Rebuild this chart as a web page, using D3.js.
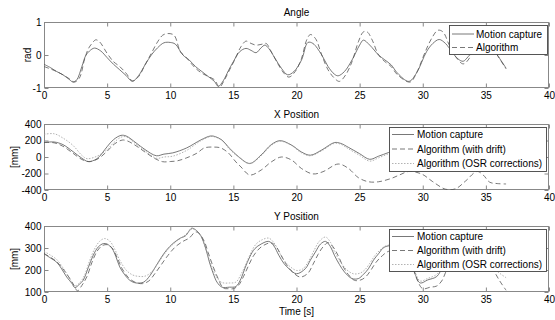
<!DOCTYPE html>
<html><head><meta charset="utf-8">
<script src="https://cdn.jsdelivr.net/npm/d3@7"></script>
<style>html,body{margin:0;padding:0;background:#fff}svg{display:block}text{font-family:"Liberation Sans",Arial,sans-serif;fill:#000}</style>
</head><body><svg id="c" width="555" height="320"></svg>
<script>
// ---------- DATA ----------
const xTicks = [0,5,10,15,20,25,30,35,40];
const angleTicks = [-1,0,1];
const xPosTicks = [-400,-200,0,200,400];
const yPosTicks = [100,200,300,400];

const angleMocap = [[0,-0.28],[0.5,-0.38],[1,-0.5],[1.5,-0.6],[2,-0.74],[2.3,-0.82],[2.6,-0.75],[3,-0.35],[3.3,-0.02],[3.6,0.12],[4,0.21],[4.5,0.12],[5,-0.08],[5.5,-0.28],[6,-0.45],[6.5,-0.62],[7,-0.8],[7.5,-0.62],[8,-0.3],[8.5,0.0],[9,0.22],[9.5,0.37],[10,0.38],[10.4,0.33],[11,0.0],[11.5,-0.15],[12,-0.35],[12.5,-0.5],[13,-0.65],[13.5,-0.8],[13.8,-0.95],[14.2,-0.78],[14.6,-0.48],[15,-0.2],[15.5,0.1],[16,0.2],[16.4,0.14],[16.8,0.07],[17.2,0.22],[17.5,0.3],[17.8,0.2],[18.3,-0.1],[18.8,-0.4],[19.3,-0.6],[19.8,-0.5],[20.4,-0.15],[20.9,0.38],[21.3,0.35],[22,0.0],[22.5,-0.35],[23,-0.58],[23.3,-0.63],[23.8,-0.5],[24.4,-0.15],[25,0.3],[25.3,0.45],[25.8,0.3],[26.5,0.0],[27,-0.15],[27.5,-0.3],[28,-0.55],[28.9,-0.8],[29.5,-0.55],[30.3,0.1],[30.8,0.35],[31.3,0.47],[31.8,0.35],[32.3,0.1],[32.8,-0.12],[33.2,-0.19],[33.6,-0.05],[34.2,0.2],[34.8,0.3],[35.4,0.25],[35.9,0.0],[36.6,-0.4]];
const angleAlgo = [[0,-0.35],[0.5,-0.42],[1,-0.5],[1.5,-0.6],[2,-0.72],[2.4,-0.82],[2.8,-0.7],[3.2,-0.15],[3.5,0.18],[3.8,0.35],[4.1,0.46],[4.4,0.4],[5,0.05],[5.5,-0.2],[6,-0.35],[6.5,-0.55],[7,-0.78],[7.5,-0.65],[8,-0.3],[8.5,0.05],[9,0.4],[9.4,0.6],[9.8,0.65],[10.3,0.6],[10.8,0.1],[11.2,-0.05],[12,-0.4],[12.5,-0.55],[13,-0.65],[13.5,-0.75],[13.9,-0.97],[14.3,-0.75],[14.7,-0.45],[15.1,-0.15],[15.6,0.25],[16,0.42],[16.4,0.35],[16.8,0.3],[17.3,0.33],[17.6,0.35],[18,0.1],[18.5,-0.25],[19,-0.55],[19.4,-0.67],[19.9,-0.5],[20.4,-0.1],[20.8,0.45],[21.1,0.62],[21.5,0.5],[22,0.0],[22.5,-0.45],[23,-0.7],[23.4,-0.8],[23.9,-0.6],[24.4,-0.2],[24.9,0.4],[25.3,0.7],[25.6,0.7],[26,0.45],[26.5,0.0],[27,-0.2],[27.5,-0.35],[28,-0.6],[29,-0.82],[29.5,-0.55],[30.2,0.1],[30.7,0.5],[31.2,0.75],[31.6,0.7],[32.1,0.3],[32.6,-0.05],[33.2,-0.27],[33.6,-0.15],[34.2,0.3],[34.8,0.45],[35.4,0.3],[35.9,0.0],[36.6,-0.42]];

const xMocap = [[0,175],[0.8,182],[1.5,150],[2.3,65],[3,-15],[3.5,-55],[4.2,-20],[5,125],[5.5,210],[6.1,262],[6.5,255],[7.3,170],[8,90],[8.9,15],[9.5,35],[10.2,50],[11.3,110],[12.4,205],[13.2,255],[13.6,245],[14.1,205],[14.7,105],[15.4,5],[16.3,-78],[17.2,25],[18,150],[18.7,198],[19.6,145],[20.4,60],[21.1,22],[22,85],[23,175],[23.5,165],[24.1,118],[25,40],[25.8,-28],[26.5,10],[27.3,55],[28,100],[29,120],[30,60],[31,20],[32,60],[33,100],[34,60],[35,20],[36,40],[36.6,50]];
const xOsr = [[0,275],[0.8,282],[1.5,230],[2.3,140],[3,20],[3.4,-20],[4.2,10],[5,90],[5.5,170],[6.1,240],[6.5,245],[7.3,155],[8,75],[8.9,-15],[9.5,0],[10.2,10],[11.3,80],[12.4,195],[13.2,248],[13.6,240],[14.1,200],[14.7,95],[15.4,0],[16.3,-80],[17.2,15],[18,140],[18.7,192],[19.6,140],[20.4,50],[21.1,15],[22,75],[23,165],[23.5,155],[24.1,100],[25,20],[25.8,-50],[26.5,-10],[27.3,40],[28,80],[29,100],[30,40],[31,0],[32,40],[33,80],[34,40],[35,0],[36,20],[36.6,30]];
const xDrift = [[0,175],[0.8,172],[1.5,130],[2.3,45],[3,-30],[3.6,-57],[4.3,-20],[5,70],[5.6,160],[6.2,205],[6.6,195],[7.3,135],[8,60],[8.8,-20],[9.4,-57],[10,-55],[10.6,-45],[11.3,-10],[12.1,45],[12.7,110],[13.5,120],[14,110],[14.6,50],[15.2,-60],[15.6,-120],[16.3,-218],[17.2,-158],[18,-60],[18.8,0],[19.6,-36],[20.4,-140],[21.3,-205],[22.1,-178],[23.3,-85],[24.1,-137],[24.9,-250],[25.7,-300],[26.5,-300],[27.5,-260],[28.2,-215],[28.9,-175],[29.9,-205],[30.8,-300],[31.8,-390],[32.6,-385],[33.4,-290],[34.3,-175],[34.8,-220],[35.3,-305],[35.9,-322],[36.6,-327]];

const yMocap = [[0,274],[0.5,255],[1,236],[1.4,205],[1.8,168],[2.2,140],[2.45,120],[2.8,135],[3.1,153],[3.5,210],[3.9,267],[4.3,305],[4.7,320],[5,318],[5.4,297],[5.7,260],[6,214],[6.4,178],[6.8,153],[7.3,141],[7.9,145],[8.4,175],[8.9,221],[9.3,258],[9.7,290],[10.2,320],[10.8,345],[11.2,355],[11.7,390],[12,383],[12.4,358],[12.8,300],[13.1,236],[13.4,185],[13.7,145],[14.1,122],[14.7,122],[15.2,125],[15.6,160],[15.9,206],[16.3,260],[16.7,297],[17.2,318],[17.8,330],[18.2,310],[18.6,267],[19,230],[19.4,206],[20,183],[20.7,206],[21.1,245],[21.5,282],[21.9,318],[22.3,330],[22.7,305],[23,267],[23.4,225],[23.8,191],[24.4,161],[24.9,161],[25.3,180],[25.7,206],[26.1,245],[26.5,274],[27,305],[28.6,305],[29,250],[29.4,180],[29.8,141],[30.4,155],[31.1,170],[31.6,215],[32.2,265],[33,300],[34,300],[35,280],[35.8,250],[36.6,228]];
const yDrift = [[0,275],[0.5,258],[1,238],[1.5,205],[2,165],[2.4,128],[2.65,105],[3,130],[3.4,170],[3.8,235],[4.2,285],[4.6,310],[5,315],[5.4,300],[5.8,255],[6.2,205],[6.7,165],[7.2,145],[7.8,138],[8.3,150],[8.8,185],[9.3,225],[9.8,265],[10.4,305],[11,330],[11.5,345],[12,373],[12.3,365],[12.7,330],[13,280],[13.4,215],[13.8,160],[14.2,118],[14.6,115],[15,115],[15.4,130],[15.8,170],[16.2,220],[16.6,265],[17.1,300],[17.6,318],[18,324],[18.4,305],[18.8,265],[19.2,225],[19.7,190],[20.3,168],[20.9,185],[21.3,225],[21.7,270],[22.1,305],[22.5,324],[22.9,305],[23.3,265],[23.7,215],[24.1,180],[24.6,153],[25.1,155],[25.5,170],[25.9,200],[26.3,235],[26.8,265],[27.3,285],[28.8,285],[29.2,220],[29.6,150],[30,115],[30.6,122],[31.1,127],[31.5,150],[31.9,200],[32.5,255],[33.2,295],[34,300],[35,260],[35.6,200],[36.1,150],[36.6,108]];
const yOsr = [[0,285],[0.5,268],[1,248],[1.5,210],[2,165],[2.4,128],[2.8,140],[3.2,175],[3.6,240],[4,295],[4.4,330],[4.8,343],[5.2,332],[5.6,295],[6,245],[6.5,200],[7,178],[7.5,171],[8,172],[8.5,190],[9,228],[9.5,270],[10,305],[10.6,335],[11.2,360],[11.7,385],[12.1,378],[12.5,345],[12.9,280],[13.3,215],[13.7,165],[14.1,143],[14.7,141],[15.2,145],[15.6,180],[16,228],[16.4,280],[16.8,318],[17.3,338],[17.8,345],[18.2,325],[18.6,285],[19,245],[19.5,215],[20,198],[20.5,205],[21,245],[21.4,290],[21.8,330],[22.3,350],[22.7,325],[23,285],[23.5,235],[24,200],[24.5,183],[25,185],[25.4,200],[25.8,230],[26.2,265],[26.6,290],[27.1,310],[28.6,312],[29,260],[29.4,190],[29.8,150],[30.4,162],[31.1,180],[31.6,225],[32.2,275],[33,310],[34,310],[35,270],[35.6,210],[36.1,185],[36.6,165]];

const legAngle = ["Motion capture","Algorithm"];
const legPos = ["Motion capture","Algorithm (with drift)","Algorithm (OSR corrections)"];

// ---------- STYLES ----------
const styles = {
  solid: {stroke:"#555", dash:null, w:0.8},
  dashed:{stroke:"#555", dash:"5,3", w:0.8},
  dotted:{stroke:"#a0a0a0", dash:"1.5,1.5", w:0.8}
};

const svg = d3.select("#c");
const L = 44, R = 549;
const x = d3.scaleLinear().domain([0,40]).range([L,R]);

const panels = [
  {top:22, bottom:88, domain:[-1,1], ticks:angleTicks, title:"Angle", ylab:"rad", ylabX:27,
   series:[[angleMocap,"solid"],[angleAlgo,"dashed"]],
   legend:{labels:legAngle, styles:["solid","dashed"], x:449, y:25, w:98, h:29, rows:[34,47.5], lx0:452, lx1:474, tx:476}},
  {top:124, bottom:190, domain:[-400,400], ticks:xPosTicks, title:"X Position", ylab:"[mm]", ylabX:14,
   series:[[xMocap,"solid"],[xOsr,"dotted"],[xDrift,"dashed"]],
   legend:{labels:legPos, styles:["solid","dashed","dotted"], x:389, y:127, w:157, h:44, rows:[134.5,149,163.5], lx0:392, lx1:414, tx:417}},
  {top:226, bottom:292, domain:[100,400], ticks:yPosTicks, title:"Y Position", ylab:"[mm]", ylabX:14,
   series:[[yMocap,"solid"],[yOsr,"dotted"],[yDrift,"dashed"]],
   legend:{labels:legPos, styles:["solid","dashed","dotted"], x:389, y:229, w:157, h:42, rows:[236.5,250.5,264.5], lx0:392, lx1:414, tx:417}}
];

panels.forEach((p,i)=>{
  const y = d3.scaleLinear().domain(p.domain).range([p.bottom,p.top]);
  const g = svg.append("g");
  const cid = "clip"+i;
  svg.append("clipPath").attr("id",cid).append("rect")
    .attr("x",L).attr("y",p.top).attr("width",R-L).attr("height",p.bottom-p.top);

  g.append("rect").attr("x",L+0.5).attr("y",p.top+0.5).attr("width",R-L-1).attr("height",p.bottom-p.top-1)
    .attr("fill","#fff").attr("stroke","#888").attr("stroke-width",1);

  const tk = 4;
  const axB = d3.axisBottom(x).tickValues(xTicks).tickSize(-tk).tickFormat(d=>d).tickPadding(4);
  const axT = d3.axisTop(x).tickValues(xTicks).tickSize(-tk).tickFormat("");
  const axLft = d3.axisLeft(y).tickValues(p.ticks).tickSize(-tk).tickFormat(d=>d).tickPadding(3);
  const axRt = d3.axisRight(y).tickValues(p.ticks).tickSize(-tk).tickFormat("");
  const styleAx = sel => { sel.select(".domain").remove(); sel.selectAll("line").attr("stroke","#888");
    sel.selectAll("text").attr("font-size",10).attr("fill","#000").style("font-family","Liberation Sans, Arial, sans-serif"); };
  g.append("g").attr("transform",`translate(0,${p.bottom-0.5})`).call(axB).call(styleAx);
  g.append("g").attr("transform",`translate(0,${p.top+0.5})`).call(axT).call(styleAx);
  g.append("g").attr("transform",`translate(${L+0.5},0)`).call(axLft).call(styleAx);
  g.append("g").attr("transform",`translate(${R-0.5},0)`).call(axRt).call(styleAx);

  const line = d3.line().x(d=>x(d[0])).y(d=>y(d[1])).curve(d3.curveCatmullRom.alpha(0.5));
  const lg = g.append("g").attr("clip-path",`url(#${cid})`);
  p.series.forEach(([data,st])=>{
    const s = styles[st];
    lg.append("path").attr("d",line(data)).attr("fill","none").attr("stroke",s.stroke)
      .attr("stroke-width",s.w).attr("stroke-dasharray",s.dash);
  });

  g.append("text").attr("x",(L+R)/2).attr("y",p.top-6).attr("text-anchor","middle").attr("font-size",10).text(p.title);
  g.append("text").attr("transform",`translate(${p.ylabX},${(p.top+p.bottom)/2}) rotate(-90)`)
    .attr("text-anchor","middle").attr("dy","0.35em").attr("font-size",10).text(p.ylab);

  const lgd = p.legend;
  const lgG = g.append("g");
  lgG.append("rect").attr("x",lgd.x+0.5).attr("y",lgd.y+0.5).attr("width",lgd.w).attr("height",lgd.h)
    .attr("fill","#fff").attr("stroke","#444").attr("stroke-width",0.9);
  lgd.labels.forEach((lab,j)=>{
    const s = styles[lgd.styles[j]];
    lgG.append("line").attr("x1",lgd.lx0).attr("x2",lgd.lx1).attr("y1",lgd.rows[j]).attr("y2",lgd.rows[j])
      .attr("stroke",s.stroke).attr("stroke-width",s.w).attr("stroke-dasharray",s.dash);
    lgG.append("text").attr("x",lgd.tx).attr("y",lgd.rows[j]).attr("dy","0.35em").attr("font-size",10).text(lab);
  });
});

svg.append("text").attr("x",(L+R)/2).attr("y",315).attr("text-anchor","middle").attr("font-size",10).text("Time [s]");
</script></body></html>
